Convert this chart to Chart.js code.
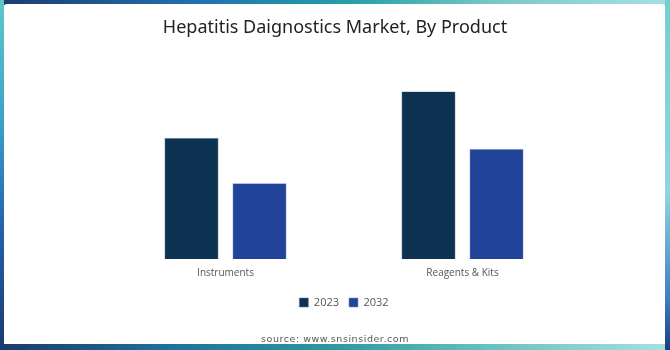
<!DOCTYPE html>
<html>
<head>
<meta charset="utf-8">
<script src="https://cdn.jsdelivr.net/npm/chart.js@4.4.0/dist/chart.umd.min.js"></script>
<style>
  html, body { margin: 0; padding: 0; }
  body { width: 670px; height: 350px; position: relative; overflow: hidden; background: #fff; }
  .edge { position: absolute; }
  #top { left: 0; top: 0; width: 670px; height: 5px; background: linear-gradient(to right, #1b3d6f, #2272b0 30%, #23a0a6 52%, #7cc9c8 75%, #a6e0e6); }
  #bottom { left: 0; bottom: 0; width: 670px; height: 6px; background: linear-gradient(to right, #1b3a6e, #1f6f9c 25%, #2a9aa0 50%, #6ec3c2 75%, #a8e0e2); }
  #left { left: 0; top: 0; width: 4px; height: 350px; background: linear-gradient(to bottom, #5fc9c8, #3aa0c8 35%, #2463ac 65%, #1b3a70); }
  #right { right: 0; top: 0; width: 5px; height: 350px; background: linear-gradient(to bottom, #72cfd0, #8fd6e2 55%, #3f7fc0 85%, #1d3b80); }
  #panel { position: absolute; left: 4px; top: 4px; width: 661px; height: 340px; background: #fff; border-radius: 3px; }
  #chart-box { position: absolute; left: 0; top: 0; width: 670px; height: 350px; }
  #source { position: absolute; left: 0; width: 670px; top: 333px; text-align: center; font-family: "DejaVu Sans", sans-serif; font-size: 9.5px; letter-spacing: 0.55px; color: #555; }
</style>
</head>
<body>
<div class="edge" id="top"></div>
<div class="edge" id="bottom"></div>
<div class="edge" id="left"></div>
<div class="edge" id="right"></div>
<div id="panel"></div>
<div id="chart-box"><canvas id="product-chart" width="670" height="350"></canvas></div>
<div id="source">source: www.snsinsider.com</div>

<script>
const categories = ["Instruments", "Reagents & Kits"];
const values2023 = [3.61, 5.0];
const values2032 = [2.26, 3.28];
const seriesLabels = ["2023", "2032"];

function createProductChart() {
    const ctx = document.getElementById("product-chart").getContext("2d");

    new Chart(ctx, {
        type: 'bar',
        data: {
            labels: categories,
            datasets: [{
                label: seriesLabels[0],
                data: values2023,
                backgroundColor: '#0d3150',
                borderColor: '#5d7a95',
                borderWidth: 0.6
            }, {
                label: seriesLabels[1],
                data: values2032,
                backgroundColor: '#22439a',
                borderColor: '#7a8fc8',
                borderWidth: 0.6
            }]
        },
        options: {
            responsive: false,
            animation: false,
            layout: {
                padding: { left: 89, right: 89, top: 17, bottom: 32 }
            },
            datasets: {
                bar: { categoryPercentage: 0.574, barPercentage: 0.794 }
            },
            scales: {
                x: {
                    grid: { display: false },
                    border: { display: false },
                    ticks: {
                        color: '#555',
                        padding: 0,
                        font: { family: 'Open Sans', size: 10 }
                    },
                    // leave a gap between the category labels and the legend
                    afterFit: (scale) => { scale.height += 8; }
                },
                y: {
                    min: 0,
                    max: 6,
                    grid: { display: false },
                    border: { display: false },
                    ticks: { display: false },
                    // empty space so the plot sits a bit right of centre
                    afterFit: (scale) => { scale.width = 18; }
                }
            },
            plugins: {
                title: {
                    display: true,
                    text: 'Hepatitis Daignostics Market, By Product',
                    color: '#222',
                    padding: { top: 0, bottom: 19.4 },
                    font: { family: 'Noto Sans', size: 18, weight: 'normal' }
                },
                legend: {
                    position: 'bottom',
                    fullSize: false,
                    labels: {
                        boxWidth: 9,
                        boxHeight: 9,
                        padding: 10,
                        color: '#555',
                        font: { family: 'Open Sans', size: 11 }
                    }
                },
                tooltip: { enabled: false }
            }
        }
    });
}

createProductChart();
</script>
</body>
</html>
